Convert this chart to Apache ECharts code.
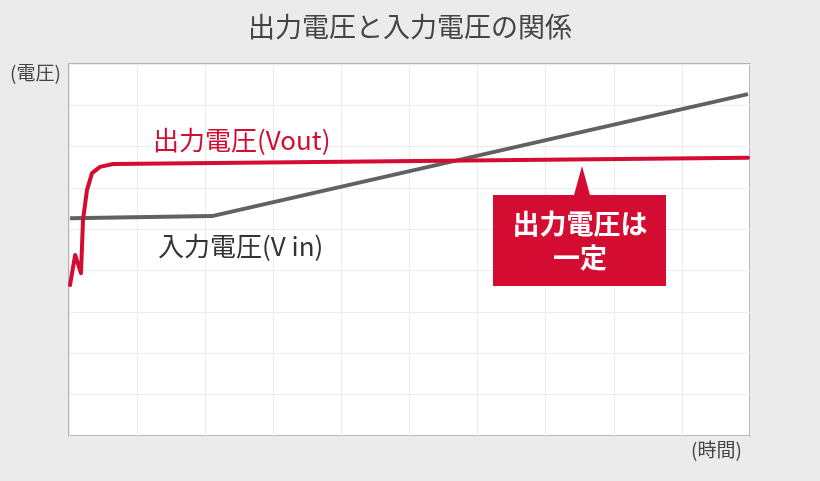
<!DOCTYPE html>
<html>
<head>
<meta charset="utf-8">
<script src="https://cdn.jsdelivr.net/npm/echarts@6/dist/echarts.min.js"></script>
<style>
  html, body { margin: 0; padding: 0; background: #ebebeb; }
  #main { width: 820px; height: 481px; }
</style>
</head>
<body>
<div id="main"></div>
<script>
// 出力電圧 (Vout) : [時間, 電圧]
var voutData = [
    [0.015, 3.65], [0.09, 4.38], [0.176, 3.94], [0.206, 5.23], [0.264, 5.95],
    [0.338, 6.36], [0.455, 6.51], [0.646, 6.58], [9.97, 6.73]
];
// 入力電圧 (Vin)
var vinData = [
    [0.015, 5.27], [2.10, 5.32], [9.97, 8.27]
];
var titleText = '出力電圧と入力電圧の関係';
var yName = '(電圧)';
var xName = '(時間)';

var font = '"Noto Sans CJK JP", "Noto Sans", sans-serif';
var red = '#d50c32';

var chart = echarts.init(document.getElementById('main'));
var option = {
    backgroundColor: '#ebebeb',
    animation: false,
    title: {
        text: titleText,
        left: 'center',
        top: 8,
        textStyle: {
            fontFamily: font,
            fontSize: 27,
            fontWeight: 'normal',
            color: '#444'
        }
    },
    grid: {
        left: 69,
        right: 70,
        top: 64,
        bottom: 45,
        show: true,
        backgroundColor: '#fff',
        borderColor: '#a0a0a0',
        borderWidth: 1.5
    },
    xAxis: {
        type: 'value',
        min: 0,
        max: 10,
        interval: 1,
        axisLine: {show: false},
        axisTick: {show: false},
        axisLabel: {show: false},
        splitLine: {lineStyle: {color: '#ececec', width: 1}}
    },
    yAxis: {
        type: 'value',
        min: 0,
        max: 9,
        interval: 1,
        axisLine: {show: false},
        axisTick: {show: false},
        axisLabel: {show: false},
        splitLine: {lineStyle: {color: '#ececec', width: 1}}
    },
    series: [
        {
            name: 'Vin',
            type: 'line',
            data: vinData,
            symbol: 'none',
            lineStyle: {color: '#616161', width: 4, join: 'round'}
        },
        {
            name: 'Vout',
            type: 'line',
            data: voutData,
            symbol: 'none',
            lineStyle: {color: red, width: 4, join: 'round', cap: 'round'}
        }
    ],
    graphic: [
        {
            type: 'text', left: 10, top: 63, z: 100,
            style: {text: yName, font: '19px ' + font, fill: '#444'}
        },
        {
            type: 'text', left: 691, top: 440, z: 100,
            style: {text: xName, font: '19px ' + font, fill: '#444'}
        },
        {
            type: 'text', left: 153, top: 127, z: 100,
            style: {text: '出力電圧(Vout)', font: '26px ' + font, fill: red}
        },
        {
            type: 'text', left: 158, top: 233, z: 100,
            style: {text: '入力電圧(V in)', font: '26px ' + font, fill: '#333'}
        },
        {
            type: 'polygon', z: 100,
            shape: {points: [[493, 195], [574, 195], [582, 166], [590, 195], [666, 195], [666, 286], [493, 286]]},
            style: {fill: red}
        },
        {
            type: 'text', x: 580, y: 241, z: 101,
            style: {
                text: '出力電圧は\n一定', font: 'bold 27px ' + font, fill: '#fff',
                align: 'center', verticalAlign: 'middle', lineHeight: 34
            }
        }
    ]
};
chart.setOption(option);
</script>
</body>
</html>
